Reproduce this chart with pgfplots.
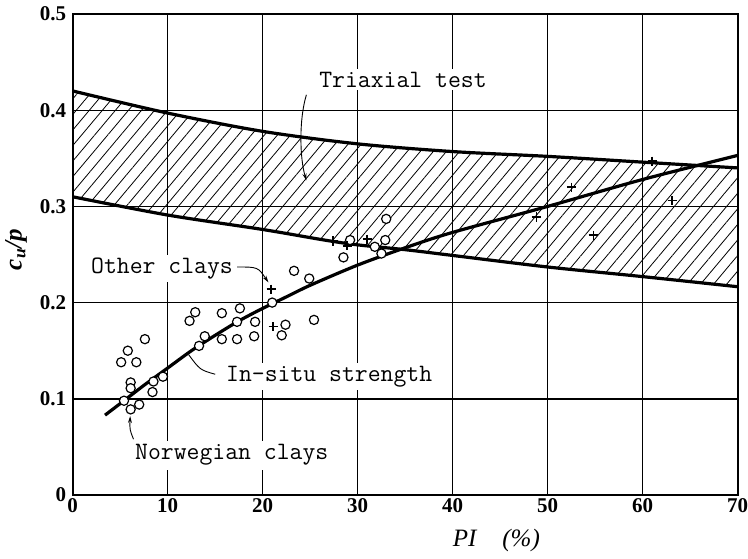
\documentclass[border=0pt]{standalone}
\usepackage{fontspec}
\setmainfont{Liberation Serif}
\usepackage{pgfplots}
\pgfplotsset{compat=1.18}
\usepgfplotslibrary{fillbetween}
\usetikzlibrary{patterns.meta,arrows.meta}

\begin{document}
\begin{tikzpicture}
\begin{axis}[
  at={(0pt,0pt)}, anchor=south west,
  width=665pt, height=481pt, scale only axis,
  xmin=0, xmax=70, ymin=0, ymax=0.5,
  xtick={0,10,...,70},
  ytick={0,0.3,0.4,0.5},
  extra y ticks={0.1,0.2},
  extra y tick style={grid=major, major grid style={black, line width=1.7pt}},
  grid=major,
  major grid style={black, line width=0.8pt},
  major tick length=0pt,
  axis line style={line width=2pt},
  tick label style={font=\fontsize{21}{21}\selectfont\bfseries},
  /pgf/number format/assume math mode=true,
  yticklabel style={xshift=-3pt},
  xlabel={\fontsize{25}{25}\selectfont\textit{PI}\quad\textit{(\%)}},
  xlabel style={at={(axis description cs:0.637,-0.094)}, anchor=center},
  ylabel={\fontsize{25}{25}\selectfont\bfseries\itshape c\textsubscript{u}/p},
  ylabel style={at={(axis description cs:-0.085,0.51)}, anchor=center},
]
\addplot[name path=upper, line width=3.2pt, smooth] coordinates {
 (0,0.420) (10,0.397) (20,0.378) (30,0.365) (40,0.357) (50,0.352) (60,0.346) (70,0.340)};
\addplot[name path=lower, line width=3.2pt, smooth] coordinates {
 (0,0.310) (10,0.291) (20,0.276) (26.5,0.265) (30,0.260) (35,0.255) (40,0.249) (50,0.237) (60,0.227) (70,0.2165)};
\addplot[draw=none, pattern={Lines[angle=50,distance=10pt,line width=0.8pt]}] fill between[of=upper and lower];
\addplot[line width=3.2pt, smooth] coordinates {
 (3.4,0.083) (5,0.095) (7.5,0.114) (10,0.132) (12.5,0.150) (15,0.166) (17.5,0.181) (20,0.194) (22.5,0.206) (25,0.218) (30,0.239) (35,0.257) (40,0.273) (50,0.300) (60,0.328) (70,0.353)};
% circles
\addplot[only marks, mark=*, mark size=4.6pt, mark options={fill=white, draw=black, line width=1.2pt}] coordinates {
 (7.6,0.162) (5.8,0.150) (5.1,0.138) (6.7,0.138) (6.1,0.117) (6.1,0.111) (9.5,0.123) (8.5,0.118) (8.4,0.107) (5.4,0.098) (6.1,0.089) (7.0,0.094)
 (12.3,0.181) (12.9,0.190) (13.3,0.155) (13.9,0.165) (15.7,0.189) (15.7,0.162) (17.6,0.194) (17.3,0.180) (17.3,0.162) (19.2,0.180) (19.1,0.165)
 (21.0,0.200) (22.4,0.177) (22.0,0.166) (23.3,0.233) (24.9,0.225) (25.4,0.182) (28.5,0.247) (29.2,0.265) (31.8,0.258) (32.5,0.251) (32.9,0.265) (33.0,0.287)};
% plus
\addplot[only marks, mark=+, mark size=4.6pt, mark options={line width=1.6pt, black}] coordinates {
 (20.9,0.214) (21.1,0.175) (27.4,0.264) (28.9,0.259) (31.0,0.266) (48.8,0.289) (52.5,0.320) (54.8,0.270) (61.0,0.347) (63.1,0.306)};
% annotations
\node[fill=white, inner sep=3pt, anchor=base, font=\fontsize{25}{25}\selectfont\ttfamily] at (axis cs:34.77,0.4238) {Triaxial test};
\node[fill=white, inner sep=3pt, anchor=base, font=\fontsize{25}{25}\selectfont\ttfamily] at (axis cs:9.40,0.2305) {Other clays};
\node[fill=white, inner sep=3pt, anchor=base, font=\fontsize{25}{25}\selectfont\ttfamily] at (axis cs:27.0,0.1178) {In-situ strength};
\node[fill=white, inner sep=4pt, anchor=base, font=\fontsize{25}{25}\selectfont\ttfamily] at (axis cs:16.74,0.0364) {Norwegian clays};
\draw[line width=0.9pt, -{Stealth[length=7pt,width=4pt]}] (axis cs:24.6,0.416) .. controls (axis cs:23.8,0.39) and (axis cs:23.9,0.35) .. (axis cs:24.6,0.327);
\draw[line width=0.9pt, -{Stealth[length=7pt,width=4pt]}] (axis cs:17.3,0.237) .. controls (axis cs:19.5,0.237) .. (axis cs:20.6,0.221);
\draw[line width=0.9pt, -{Stealth[length=7pt,width=4pt]}] (axis cs:6.4,0.058) .. controls (axis cs:6.0,0.068) .. (axis cs:6.05,0.082);
\draw[line width=0.9pt] (axis cs:15.0,0.1255) .. controls (axis cs:13.4,0.130) .. (axis cs:12.2,0.146);
\end{axis}
\pgfresetboundingbox
\path[use as bounding box] (-72.7pt,-64pt) rectangle (675.3pt,495pt);
\end{tikzpicture}
\end{document}
